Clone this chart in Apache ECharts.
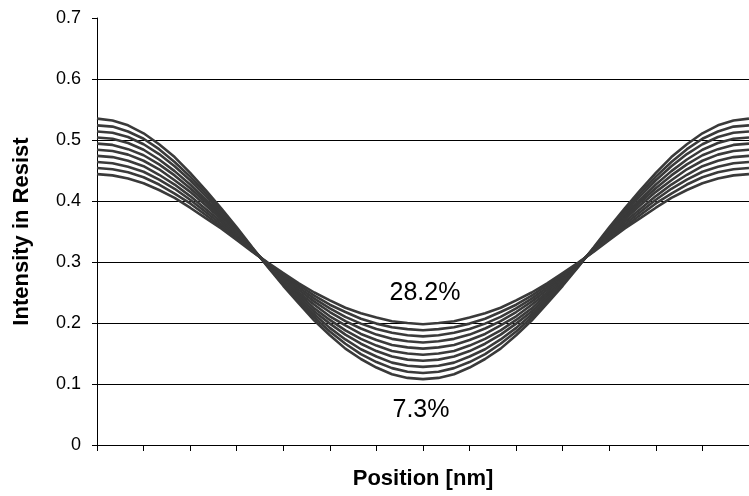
<!DOCTYPE html>
<html>
<head>
<meta charset="utf-8">
<script src="https://cdn.jsdelivr.net/npm/echarts@6/dist/echarts.min.js"></script>
<style>html,body{margin:0;padding:0;background:#fff}#c{width:749px;height:496px}</style>
</head>
<body>
<div id="c"></div>
<script>
// half profiles (edge -> centre), mirrored for the right half
const half0 = [0.535,0.532,0.524,0.511,0.493,0.472,0.446,0.418,0.388,0.357,0.324,0.292,0.261,0.232,0.204,0.180,0.158,0.141,0.127,0.116,0.110,0.108];
const half1 = [0.524,0.522,0.514,0.502,0.485,0.464,0.440,0.413,0.384,0.354,0.323,0.293,0.264,0.236,0.209,0.186,0.166,0.149,0.136,0.126,0.120,0.118];
const half2 = [0.514,0.512,0.505,0.493,0.477,0.457,0.434,0.408,0.381,0.352,0.322,0.294,0.266,0.239,0.214,0.192,0.173,0.157,0.145,0.135,0.130,0.128];
const half3 = [0.504,0.502,0.495,0.484,0.468,0.449,0.427,0.402,0.377,0.350,0.322,0.294,0.268,0.243,0.219,0.199,0.181,0.166,0.154,0.145,0.140,0.138];
const half4 = [0.494,0.492,0.485,0.475,0.460,0.442,0.421,0.398,0.373,0.348,0.321,0.295,0.270,0.247,0.224,0.205,0.188,0.174,0.163,0.154,0.150,0.148];
const half5 = [0.484,0.482,0.476,0.466,0.452,0.434,0.415,0.393,0.370,0.345,0.320,0.296,0.273,0.250,0.230,0.211,0.196,0.182,0.172,0.164,0.160,0.158];
const half6 = [0.474,0.472,0.466,0.457,0.443,0.427,0.408,0.387,0.366,0.343,0.319,0.297,0.275,0.254,0.235,0.218,0.203,0.191,0.181,0.174,0.170,0.168];
const half7 = [0.464,0.462,0.456,0.448,0.435,0.420,0.402,0.382,0.362,0.341,0.319,0.297,0.277,0.258,0.240,0.224,0.210,0.199,0.190,0.184,0.180,0.178];
const half8 = [0.454,0.452,0.447,0.439,0.427,0.412,0.396,0.377,0.358,0.339,0.318,0.298,0.279,0.262,0.245,0.230,0.218,0.207,0.199,0.193,0.190,0.188];
const half9 = [0.444,0.442,0.437,0.429,0.418,0.405,0.389,0.372,0.355,0.336,0.317,0.299,0.282,0.265,0.250,0.237,0.225,0.216,0.209,0.203,0.200,0.198];
const halves = [half0,half1,half2,half3,half4,half5,half6,half7,half8,half9];
const yTicks = [0,0.1,0.2,0.3,0.4,0.5,0.6,0.7];
const topLabel = '28.2%';
const bottomLabel = '7.3%';
const yTitle = 'Intensity in Resist';
const xTitle = 'Position [nm]';

function full(h){ const r = h.slice(); for(let i=h.length-2;i>=0;i--) r.push(h[i]); return r; }
const font = 'Liberation Sans, Arial, sans-serif';
const series = halves.map(h => ({
  type:'line', symbol:'none', smooth:false,
  data: full(h).map((v,i)=>[i,v]),
  lineStyle:{color:'#3a3a3a', width:2.6},
  animation:false
}));
const chart = echarts.init(document.getElementById('c'));
chart.setOption({
  animation:false,
  grid:{left:97, right:0, top:18, bottom:51, containLabel:false, outerBoundsMode:'none'},
  xAxis:{type:'value', min:0, max:42, interval:3,
    name:xTitle, nameLocation:'middle', nameGap:23,
    nameTextStyle:{fontFamily:font, fontSize:22, fontWeight:'bold', color:'#000'},
    axisLine:{show:true, lineStyle:{color:'#000', width:1}},
    axisTick:{show:true, length:6, lineStyle:{color:'#000'}},
    axisLabel:{show:false}, splitLine:{show:false}},
  yAxis:{type:'value', min:yTicks[0], max:yTicks[yTicks.length-1], interval:0.1,
    name:yTitle, nameLocation:'middle', nameGap:64,
    nameTextStyle:{fontFamily:font, fontSize:22, fontWeight:'bold', color:'#000'},
    axisLine:{show:true, lineStyle:{color:'#000', width:1}},
    axisTick:{show:true, length:5, lineStyle:{color:'#000'}},
    axisLabel:{fontFamily:font, fontSize:18, color:'#000', margin:16,
      formatter:v=>String(Math.round(v*10)/10)},
    splitLine:{show:true, showMinLine:false, showMaxLine:false, lineStyle:{color:'#000', width:1}}},
  series: series,
  graphic:[
    {type:'text', style:{text:topLabel, x:425, y:293, align:'center', verticalAlign:'middle', fontFamily:font, fontSize:25, fill:'#000'}},
    {type:'text', style:{text:bottomLabel, x:421, y:410, align:'center', verticalAlign:'middle', fontFamily:font, fontSize:25, fill:'#000'}}
  ]
});
</script>
</body>
</html>
